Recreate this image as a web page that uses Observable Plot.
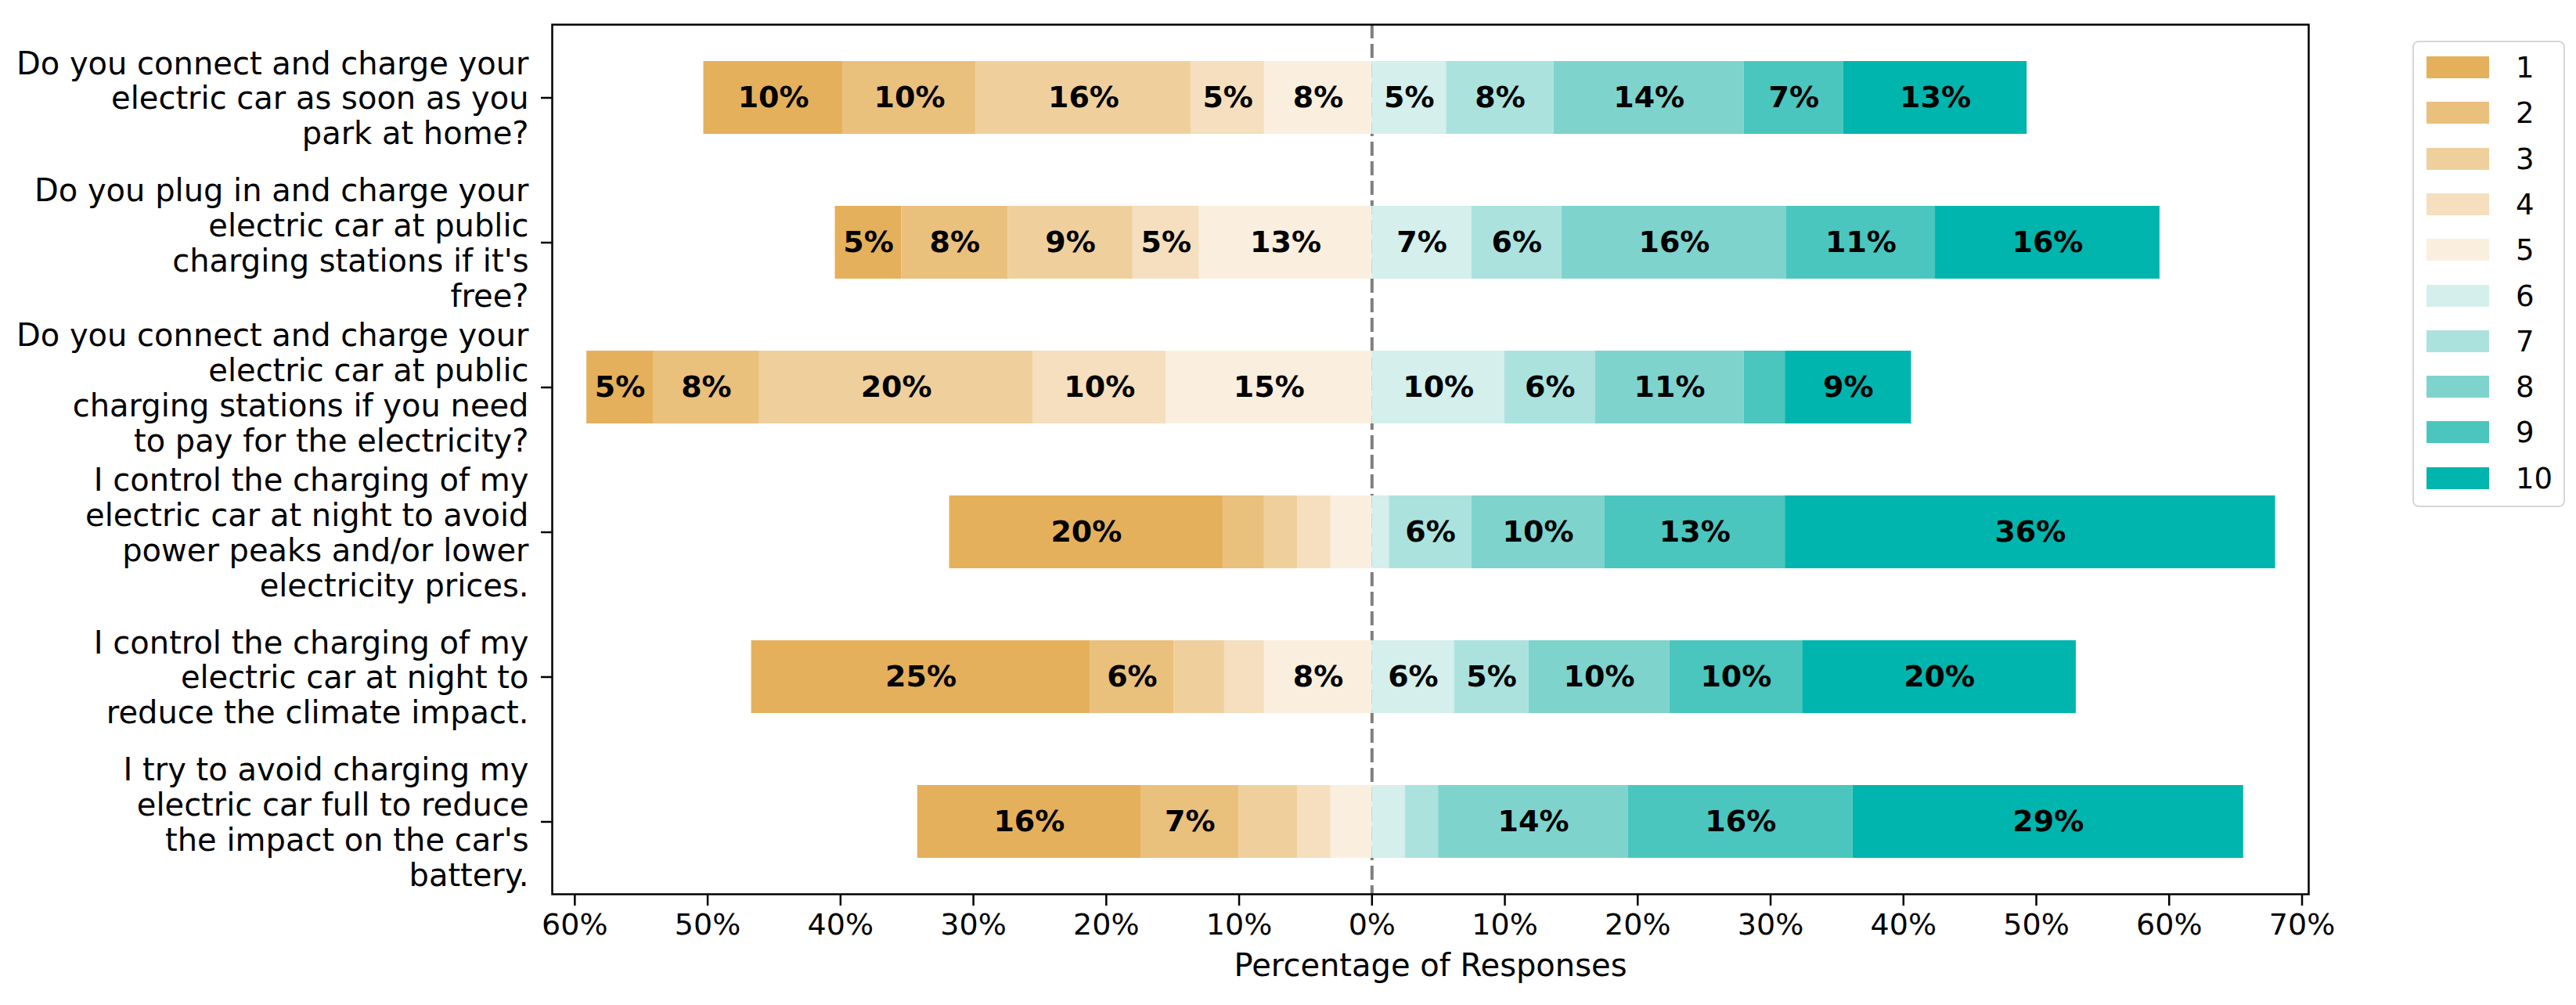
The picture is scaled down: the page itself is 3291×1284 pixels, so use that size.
<!DOCTYPE html>
<html>
<head>
<meta charset="utf-8">
<script src="https://cdn.jsdelivr.net/npm/d3@7"></script>
<script src="https://cdn.jsdelivr.net/npm/@observablehq/plot@0.6"></script>
<style>
  body { margin: 0; background: #fff; font-family: "DejaVu Sans", sans-serif; }
  #wrap { position: relative; width: 3291px; height: 1284px; overflow: hidden; }
  #legend { position: absolute; left: 3082px; top: 52px; width: 195px; height: 596px; box-sizing: border-box;
            border: 2px solid #d6d6d6; border-radius: 8px; background: #fff; }
  .sw { position: absolute; left: 16px; width: 80px; height: 28px; }
  .lb { position: absolute; left: 130px; font-size: 37px; line-height: 37px; color: #000; font-family: "DejaVu Sans", sans-serif; }
</style>
</head>
<body>
<div id="wrap"><div id="chart"></div><div id="legend"></div></div>
<script>
const questions = [
  "Do you connect and charge your\nelectric car as soon as you\npark at home?",
  "Do you plug in and charge your\nelectric car at public\ncharging stations if it's\nfree?",
  "Do you connect and charge your\nelectric car at public\ncharging stations if you need\nto pay for the electricity?",
  "I control the charging of my\nelectric car at night to avoid\npower peaks and/or lower\nelectricity prices.",
  "I control the charging of my\nelectric car at night to\nreduce the climate impact.",
  "I try to avoid charging my\nelectric car full to reduce\nthe impact on the car's\nbattery."
];
const levels = ["1","2","3","4","5","6","7","8","9","10"];
const colors = ["#E5B05C","#EAC07D","#EFD09D","#F5DFBE","#FAEFDE","#D4EFEC","#ACE2DE","#7FD3CD","#4AC6BE","#00B5AD"];

// percentage of responses per level 1..10 for each question
const q1 = [10.5, 10.0, 16.2, 5.5, 8.1, 5.6, 8.1, 14.3, 7.5, 13.8];
const q2 = [5.0, 8.0, 9.4, 5.0, 13.0, 7.5, 6.8, 16.9, 11.2, 16.9];
const q3 = [5.0, 8.0, 20.6, 10.0, 15.5, 10.0, 6.8, 11.2, 3.1, 9.5];
const q4 = [20.6, 3.1, 2.5, 2.5, 3.1, 1.3, 6.2, 10.0, 13.6, 36.9];
const q5 = [25.5, 6.3, 3.8, 3.0, 8.1, 6.2, 5.6, 10.6, 10.0, 20.6];
const q6 = [16.8, 7.4, 4.4, 2.5, 3.1, 2.5, 2.5, 14.3, 16.9, 29.4];
const values = [q1, q2, q3, q4, q5, q6];

const xTicks = [-60, -50, -40, -30, -20, -10, 0, 10, 20, 30, 40, 50, 60, 70];
const xDomain = [-61.7, 70.5];
const axisTitle = "Percentage of Responses";

// build diverging stacked rows
const rows = [];
questions.forEach((q, i) => {
  const v = values[i];
  let neg = 0;
  for (let k = 4; k >= 0; k--) {
    rows.push({q, level: levels[k], x1: -(neg + v[k]), x2: -neg, v: v[k]});
    neg += v[k];
  }
  let pos = 0;
  for (let k = 5; k < 10; k++) {
    rows.push({q, level: levels[k], x1: pos, x2: pos + v[k], v: v[k]});
    pos += v[k];
  }
});

const chart = Plot.plot({
  width: 3291,
  height: 1284,
  marginLeft: 705,
  marginRight: 342,
  marginTop: 31,
  marginBottom: 142,
  style: {fontFamily: "DejaVu Sans, sans-serif", fontSize: "38px", color: "black", background: "white"},
  x: {domain: xDomain},
  y: {domain: questions, paddingInner: 0.5, paddingOuter: 0.25},
  color: {domain: levels, range: colors},
  marks: [
    Plot.ruleX([0], {stroke: "#7f7f7f", strokeWidth: 4, strokeDasharray: "18,7"}),
    Plot.barX(rows, {x1: "x1", x2: "x2", y: "q", fill: "level"}),
    Plot.text(rows.filter(d => d.v >= 5), {
      x: d => (d.x1 + d.x2) / 2, y: "q", text: d => Math.floor(d.v) + "%",
      fontWeight: "bold", fontSize: 38, fill: "black"
    }),
    Plot.axisX({ticks: xTicks, tickFormat: d => Math.abs(d) + "%", tickSize: 15, tickPadding: 10,
                strokeWidth: 2.5, fontSize: 38, label: null, color: "black"}),
    Plot.axisY({tickSize: 14, tickPadding: 16, strokeWidth: 2.5, fontSize: 40, lineHeight: 1.12,
                label: null, color: "black"}),
    Plot.frame({stroke: "black", strokeWidth: 2.5}),
    Plot.text([axisTitle], {text: d => d, frameAnchor: "bottom", dy: 104, fontSize: 40, fill: "black"})
  ]
});
document.getElementById("chart").appendChild(chart);

// legend (right side)
const legend = document.getElementById("legend");
levels.forEach((lv, i) => {
  const cy = 32 + i * 58.3;
  const sw = document.createElement("div");
  sw.className = "sw";
  sw.style.top = (cy - 14) + "px";
  sw.style.background = colors[i];
  legend.appendChild(sw);
  const lb = document.createElement("div");
  lb.className = "lb";
  lb.style.top = (cy - 18) + "px";
  lb.textContent = lv;
  legend.appendChild(lb);
});
</script>
</body>
</html>
